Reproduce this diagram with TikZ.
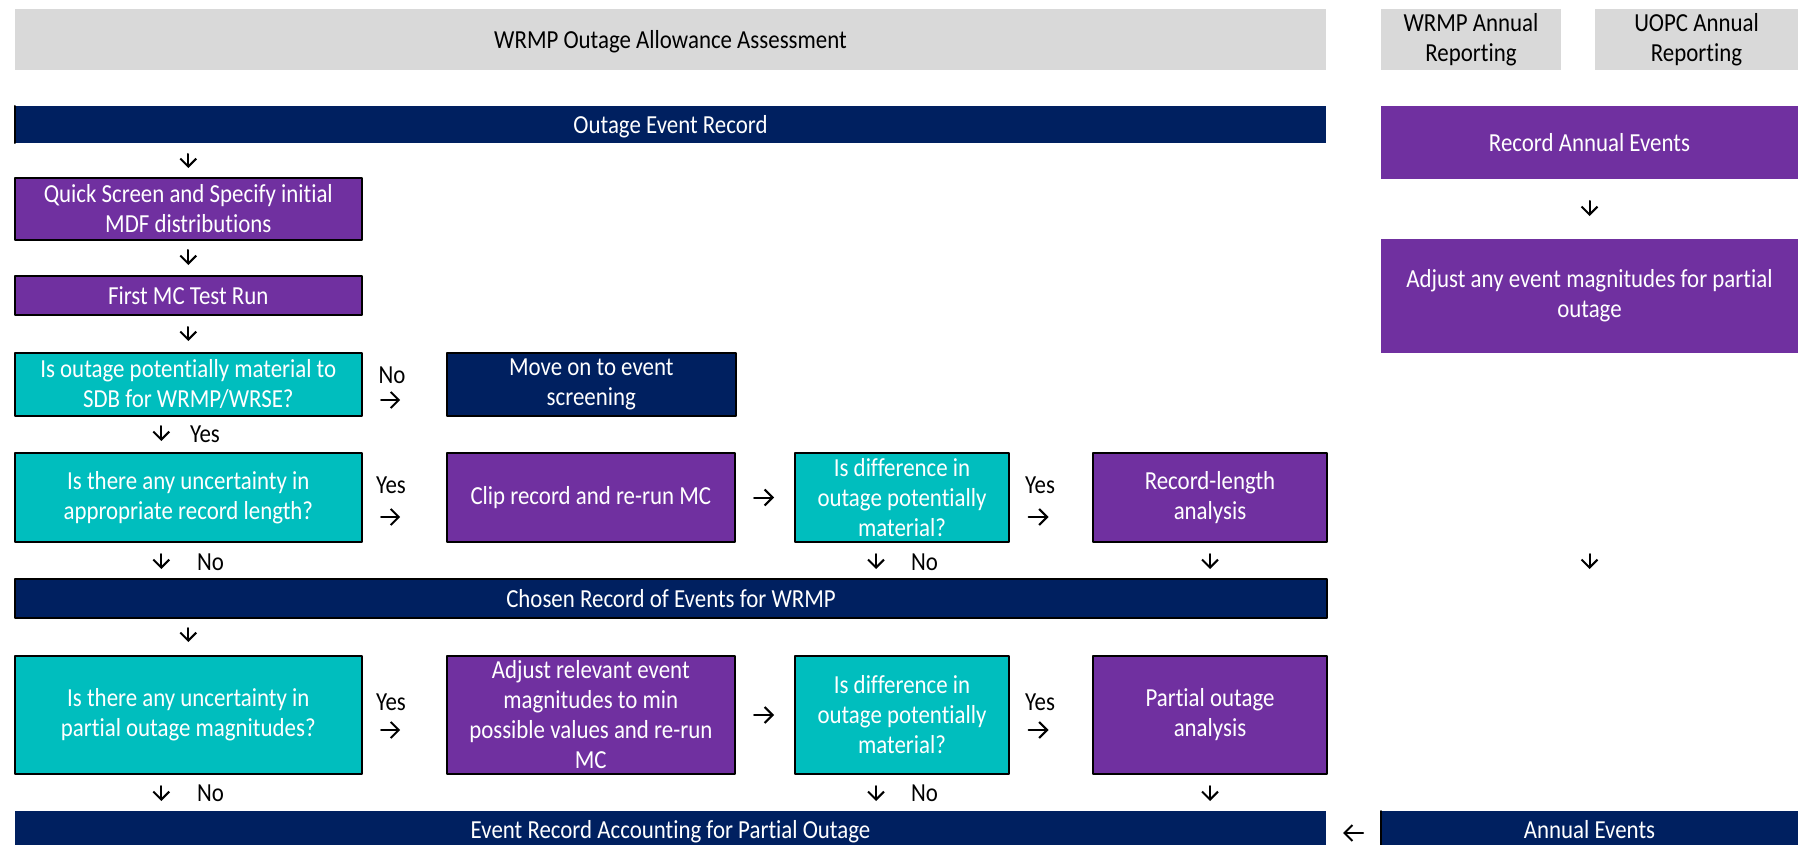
\documentclass[tikz,border=0pt]{standalone}
\usepackage{fontspec}
\setmainfont{Carlito}[FakeStretch=0.88,Ligatures=NoCommon]
\usetikzlibrary{arrows.meta}
\definecolor{navybar}{HTML}{002060}
\definecolor{purplebox}{HTML}{7030A0}
\definecolor{tealbox}{HTML}{00BEBE}
\definecolor{greyhdr}{HTML}{D9D9D9}

\begin{document}
\begin{tikzpicture}[line cap=round,line join=round,>={Straight Barb[length=8pt,width=16pt]}
  ,x=1pt,y=-1pt
  ,box/.style={inner sep=0pt,outer sep=0pt,align=center,text=white,
    font=\fontsize{26}{30}\selectfont}
  ,hdr/.style={box,fill=greyhdr,text=black}
  ,bar/.style={box,fill=navybar,text depth=0pt}
  ,dark/.style={box,fill=navybar}
  ,act/.style={box,fill=purplebox}
  ,ask/.style={box,fill=tealbox}
  ,edge/.style={draw=black,line width=2pt}
  ,lbl/.style={box,text=black,text height=16.7pt,text depth=0pt}
  ,flow/.style={->,line width=2pt}
  ,gap/.style 2 args={shorten <=#1pt,shorten >=#2pt}]
  \useasboundingbox (0,0) rectangle (1798,845);
  \clip (0,0) rectangle (1798,845);
  % headers
  \node[hdr,text depth=0pt,minimum width=1311,minimum height=61] (head) at (670.5,39.5) {WRMP Outage Allowance Assessment};
  \node[hdr,minimum width=180,minimum height=61] (wrmpann) at (1471,39.5) {WRMP Annual\\Reporting};
  \node[hdr,minimum width=203,minimum height=61] (uopcann) at (1696.5,39.5) {UOPC Annual\\Reporting};
  % main column
  \node[bar,minimum width=1311,minimum height=37] (outrec) at (670.5,124.5) {Outage Event Record};
  \draw[line width=2pt] (outrec.north west) -- (outrec.south west);
  \node[act,edge,minimum width=346.6,minimum height=62] (quick) at (188.3,209) {Quick Screen and Specify initial\\MDF distributions};
  \node[act,edge,minimum width=346.6,minimum height=39] (firstmc) at (188.3,295.5) {First MC Test Run};
  \node[ask,edge,minimum width=346.6,minimum height=63] (isout) at (188.3,384.5) {Is outage potentially material to\\SDB for WRMP/WRSE?};
  \node[dark,edge,minimum width=289.4,minimum height=63] (moveon) at (591.3,384.5) {Move on to event\\screening};
  \node[ask,edge,minimum width=346.6,minimum height=89] (uncrec) at (188.3,497.5) {Is there any uncertainty in\\appropriate record length?};
  \node[act,edge,minimum width=288.4,minimum height=89] (cliprec) at (590.8,497.5) {Clip record and re-run MC};
  \node[ask,edge,minimum width=214,minimum height=89] (difrec) at (902,497.5) {Is difference in\\outage potentially\\material?};
  \node[act,edge,minimum width=234,minimum height=89] (reclen) at (1210,497.5) {Record-length\\analysis};
  \node[bar,edge,minimum width=1312,minimum height=39] (chosen) at (671,598.5) {Chosen Record of Events for WRMP};
  \node[ask,edge,minimum width=346.6,minimum height=118] (uncpart) at (188.3,715) {Is there any uncertainty in\\partial outage magnitudes?};
  \node[act,edge,minimum width=288.4,minimum height=118] (adjrel) at (590.8,715) {Adjust relevant event\\magnitudes to min\\possible values and re-run\\MC};
  \node[ask,edge,minimum width=214,minimum height=118] (difpart) at (902,715) {Is difference in\\outage potentially\\material?};
  \node[act,edge,minimum width=234,minimum height=118] (partan) at (1210,715) {Partial outage\\analysis};
  \node[bar,minimum width=1311,minimum height=37] (evrec) at (670.5,829.5) {Event Record Accounting for Partial Outage};
  % annual column
  \node[act,minimum width=417,minimum height=73] (recann) at (1589.5,142.5) {Record Annual Events};
  \node[act,minimum width=417,minimum height=114] (adjany) at (1589.5,296) {Adjust any event magnitudes for partial\\outage};
  \node[bar,minimum width=417,minimum height=37] (annev) at (1589.5,829.5) {Annual Events};
  \draw[line width=2pt] (annev.north west) -- (annev.south west);
  % labels
  \node[lbl] (noA) at (392,375) {No};
  \node[lbl] (yesA) at (391,485) {Yes};
  \node[lbl] (yesB) at (1040,485) {Yes};
  \node[lbl] (yesC) at (391,702) {Yes};
  \node[lbl] (yesD) at (1040,702) {Yes};
  \node[lbl,anchor=west] (yesE) at (190,434) {Yes};
  \node[lbl,anchor=west] (noB) at (197,562) {No};
  \node[lbl,anchor=west] (noC) at (911,562) {No};
  \node[lbl,anchor=west] (noD) at (197,793) {No};
  \node[lbl,anchor=west] (noE) at (911,793) {No};
  % arrows down
  \draw[flow,gap={11}{10}] (outrec.south -| quick.north) -- (quick.north);
  \draw[flow,gap={10}{11}] (quick.south) -- (firstmc.north);
  \draw[flow,gap={12}{12}] (firstmc.south) -- (isout.north);
  \draw[flow,gap={10}{12}] ([xshift=-27pt]isout.south) -- ([xshift=-27pt]uncrec.north);
  \draw[flow,gap={12}{10}] ([xshift=-27pt]uncrec.south) -- ([xshift=-27pt]uncrec.south |- chosen.north);
  \draw[flow,gap={12}{10}] ([xshift=-26pt]difrec.south) -- ([xshift=-26pt]difrec.south |- chosen.north);
  \draw[flow,gap={12}{10}] (reclen.south) -- (reclen.south |- chosen.north);
  \draw[flow,gap={10}{14}] (chosen.south -| uncpart.north) -- (uncpart.north);
  \draw[flow,gap={12}{10}] ([xshift=-27pt]uncpart.south) -- ([xshift=-27pt]uncpart.south |- evrec.north);
  \draw[flow,gap={12}{10}] ([xshift=-26pt]difpart.south) -- ([xshift=-26pt]difpart.south |- evrec.north);
  \draw[flow,gap={12}{10}] (partan.south) -- (partan.south |- evrec.north);
  \draw[flow,gap={22}{23}] (recann.south) -- (adjany.north);
  \draw[flow,gap={201}{242}] (adjany.south) -- (annev.north);
  % arrows across
  \draw[flow,gap={19.5}{46.5}] ([yshift=-15.5pt]isout.east) -- ([yshift=-15.5pt]moveon.west);
  \draw[flow,gap={19.5}{46.5}] ([yshift=-19.5pt]uncrec.east) -- ([yshift=-19.5pt]cliprec.west);
  \draw[flow,gap={19}{21}] (cliprec.east) -- (difrec.west);
  \draw[flow,gap={19.5}{44.5}] ([yshift=-19.5pt]difrec.east) -- ([yshift=-19.5pt]reclen.west);
  \draw[flow,gap={19.5}{46.5}] ([yshift=-15pt]uncpart.east) -- ([yshift=-15pt]adjrel.west);
  \draw[flow,gap={19}{21}] (adjrel.east) -- (difpart.west);
  \draw[flow,gap={19.5}{44.5}] ([yshift=-15pt]difpart.east) -- ([yshift=-15pt]partan.west);
  \draw[flow,gap={18}{17}] ([yshift=-3.5pt]annev.west) -- ([yshift=-3.5pt]evrec.east);
\end{tikzpicture}
\end{document}
